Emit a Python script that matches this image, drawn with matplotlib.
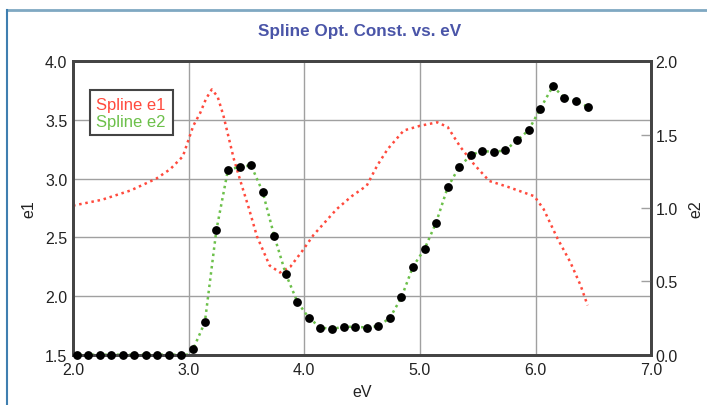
import matplotlib.pyplot as plt
from matplotlib.lines import Line2D

plt.rcParams['font.family'] = ['Liberation Sans', 'DejaVu Sans']

# spline e1 (left axis)
e1_ev = [2.00, 2.25, 2.50, 2.72, 2.84, 2.95, 3.04, 3.10, 3.15, 3.20, 3.25, 3.30,
         3.39, 3.46, 3.52, 3.59, 3.70, 3.79, 3.88, 3.98, 4.08, 4.18, 4.28, 4.41,
         4.54, 4.63, 4.72, 4.86, 5.00, 5.15, 5.24, 5.35, 5.47, 5.60, 5.76, 5.99,
         6.07, 6.19, 6.30, 6.39, 6.45]
e1_val = [2.77, 2.82, 2.90, 3.00, 3.08, 3.19, 3.45, 3.56, 3.68, 3.76, 3.70, 3.54,
          3.17, 2.94, 2.75, 2.51, 2.26, 2.20, 2.25, 2.38, 2.52, 2.63, 2.74, 2.85,
          2.94, 3.11, 3.25, 3.41, 3.45, 3.48, 3.44, 3.27, 3.12, 2.98, 2.93, 2.85,
          2.74, 2.49, 2.29, 2.09, 1.92]

# measured e2 points (right axis)
e2_ev = [2.03, 2.13, 2.23, 2.33, 2.43, 2.53, 2.63, 2.73, 2.83, 2.93,
         3.04, 3.14, 3.24, 3.34, 3.44, 3.54, 3.64, 3.74, 3.84, 3.94,
         4.04, 4.14, 4.24, 4.34, 4.44, 4.54, 4.64, 4.74, 4.84, 4.94,
         5.04, 5.14, 5.24, 5.34, 5.44, 5.54, 5.64, 5.74, 5.84, 5.94,
         6.04, 6.15, 6.25, 6.35, 6.45]
e2_val = [0.0, 0.0, 0.0, 0.0, 0.0, 0.0, 0.0, 0.0, 0.0, 0.0,
          0.04, 0.22, 0.85, 1.26, 1.28, 1.29, 1.11, 0.81, 0.55, 0.36,
          0.25, 0.185, 0.175, 0.19, 0.19, 0.185, 0.195, 0.25, 0.39, 0.60,
          0.72, 0.90, 1.14, 1.28, 1.36, 1.39, 1.38, 1.395, 1.46, 1.53,
          1.675, 1.83, 1.75, 1.73, 1.69]
# spline e2 through the points
e2s_ev = [2.00, 3.00] + e2_ev[10:] + [6.47]
e2s_val = [0.0, 0.0] + e2_val[10:] + [1.64]

red = '#ff4a3d'
green = '#6cc04a'

fig = plt.figure(figsize=(7.07, 4.06), dpi=100)
ax = fig.add_axes([0.1033, 0.124, 0.8177, 0.7226])
ax2 = ax.twinx()

ax.plot(e1_ev, e1_val, color=red, lw=1.8, linestyle=(0, (1, 1.5)))
ax2.plot(e2s_ev, e2s_val, color=green, lw=1.8, linestyle=(0, (1, 1.5)))
ax2.plot(e2_ev, e2_val, 'o', color='black', ms=5.3, clip_on=False, zorder=5)

ax.set_xlim(2.0, 7.0)
ax.set_ylim(1.5, 4.0)
ax2.set_ylim(0.0, 2.0)
ax.set_xticks([2.0, 3.0, 4.0, 5.0, 6.0, 7.0])
ax.set_yticks([1.5, 2.0, 2.5, 3.0, 3.5, 4.0])
ax2.set_yticks([0.0, 0.5, 1.0, 1.5, 2.0])
ax.set_xticklabels(['2.0', '3.0', '4.0', '5.0', '6.0', '7.0'])
ax.set_yticklabels(['1.5', '2.0', '2.5', '3.0', '3.5', '4.0'])
ax2.set_yticklabels(['0.0', '0.5', '1.0', '1.5', '2.0'])

ax.grid(True, color='#a0a0a0', lw=1)
ax.set_axisbelow(True)
ax.tick_params(axis='x', length=0, pad=5, labelsize=11.5, colors='#222222')
ax.tick_params(axis='y', length=0, pad=4, labelsize=11.5, colors='#222222')
ax2.tick_params(axis='y', direction='in', length=7, width=1, color='#a0a0a0',
                pad=3, labelsize=11.5, labelcolor='#222222')

for a in (ax, ax2):
    for s in a.spines.values():
        s.set_color('#444444')
        s.set_linewidth(2)

ax.set_xlabel('eV', fontsize=11.5, color='#222222', labelpad=5)
ax.set_ylabel('e1', fontsize=11.5, color='#222222', labelpad=6)
ax2.set_ylabel('e2', fontsize=11.5, color='#222222', labelpad=8)

fig.text(0.5085, 0.922, 'Spline Opt. Const. vs. eV', ha='center', va='center',
         fontsize=12.3, fontweight='bold', color='#4a55a8')

handles = [Line2D([], [], color=red), Line2D([], [], color=green)]
leg = ax.legend(handles, ['Spline e1', 'Spline e2'], loc='upper left',
                bbox_to_anchor=(0.029, 0.902), borderaxespad=0, handlelength=0,
                handletextpad=0, labelcolor=[red, green], fancybox=False,
                framealpha=1, edgecolor='#444444', fontsize=12,
                borderpad=0.4, labelspacing=0.12)
leg.get_frame().set_linewidth(1.5)
leg.set_zorder(10)

# outer frame
fig.add_artist(Line2D([0.01, 1.0], [0.973, 0.973], color='#7fa8c2', lw=2))
fig.add_artist(Line2D([0.01, 0.01], [0.0, 0.973], color='#3f7fb0', lw=1.5))

fig.savefig('out.png', dpi=100)
